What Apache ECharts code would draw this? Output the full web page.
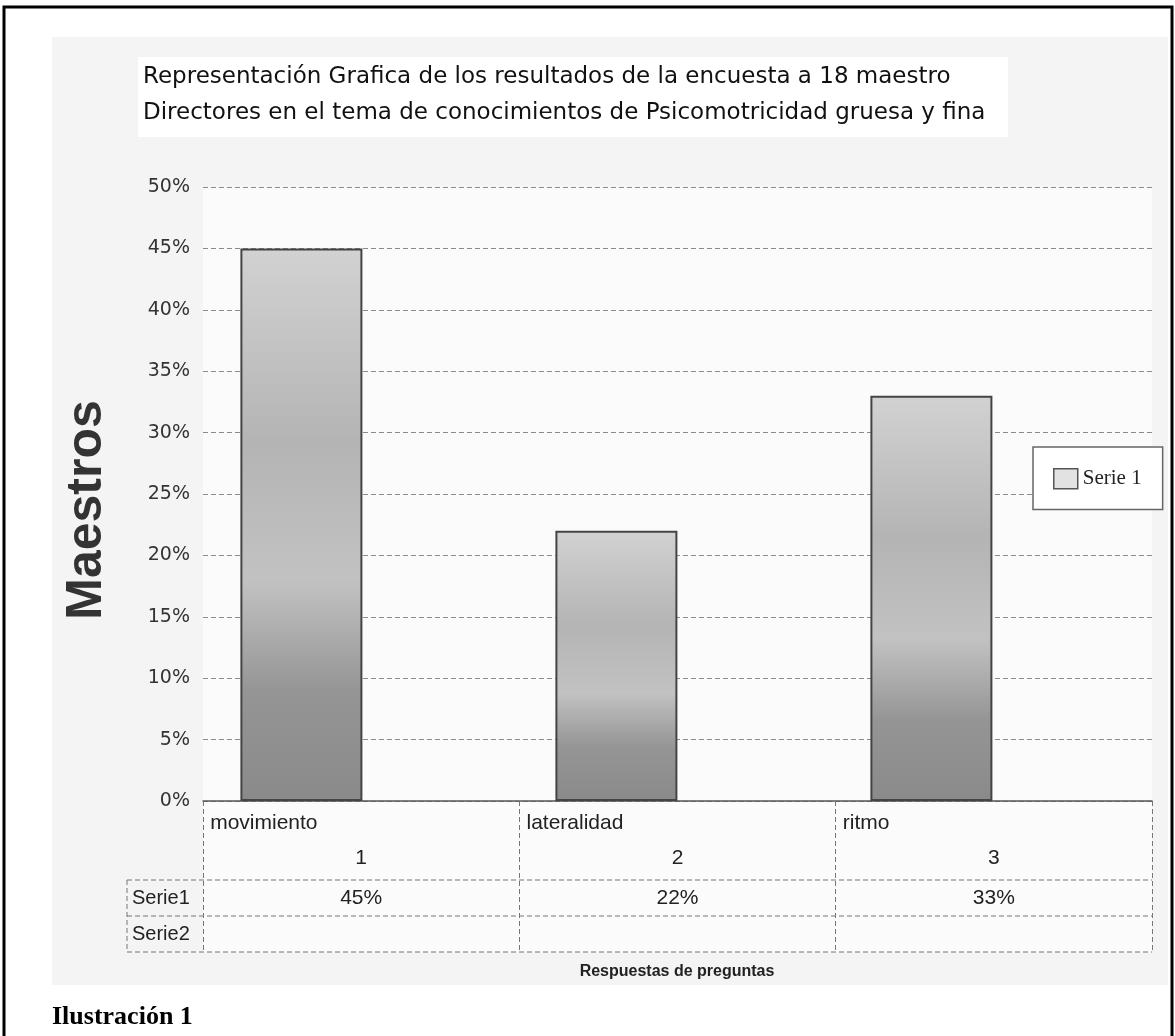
<!DOCTYPE html>
<html>
<head>
<meta charset="utf-8">
<script src="https://cdn.jsdelivr.net/npm/echarts@6/dist/echarts.min.js"></script>
<style>
html,body{margin:0;padding:0;background:#fff;}
#chart{width:1175px;height:1036px;}
</style>
</head>
<body>
<div id="chart"></div>
<script>
// ---- data ----
const categories = ['movimiento', 'lateralidad', 'ritmo'];
const categoryNumbers = ['1', '2', '3'];
const serie1 = [45, 22, 33];
const serie2 = [null, null, null];
const yTicks = [0, 5, 10, 15, 20, 25, 30, 35, 40, 45, 50];
const seriesName = 'Serie 1';
const rowLabels = ['Serie1', 'Serie2'];
const titleLines = [
  'Representación Grafica de los resultados de la encuesta a 18 maestro',
  'Directores en el tema de conocimientos de Psicomotricidad gruesa y fina'
];
const yTitle = 'Maestros';
const xTitle = 'Respuestas de preguntas';
const caption = 'Ilustración 1';

const chart = echarts.init(document.getElementById('chart'));
const tableFont = '"Liberation Sans", Arial, sans-serif';
const dashed = [5, 3];

const option = {
  animation: false,
  backgroundColor: '#ffffff',
  title: [
    {
      text: titleLines.join('\n'),
      left: 138, top: 54,
      textStyle: { fontFamily: '"DejaVu Sans", sans-serif', fontSize: 23, fontWeight: 'normal', lineHeight: 36, color: '#111' }
    }
  ],
  legend: {
    left: 1033, top: 447,
    orient: 'vertical',
    padding: [21, 21, 20, 20],
    borderColor: '#666', borderWidth: 1.5,
    backgroundColor: '#fff',
    itemWidth: 24, itemHeight: 20,
    textStyle: { fontFamily: '"Liberation Serif", "Times New Roman", serif', fontSize: 21, color: '#222' },
    data: [{ name: seriesName, icon: 'rect', itemStyle: { color: '#e2e2e2', borderColor: '#555', borderWidth: 1.5 } }]
  },
  grid: [
    { left: 150, right: 80, top: 187, bottom: 235 },
    { left: 203, right: 23, top: 187, bottom: 235 }
  ],
  xAxis: [
    { gridIndex: 0, type: 'category', data: categories, show: false },
    {
      gridIndex: 1, type: 'category', data: categories, position: 'bottom',
      axisLine: { show: true, lineStyle: { color: '#555', width: 1.5 } },
      axisTick: { show: true, length: 150, interval: 0, lineStyle: { color: '#777', type: dashed, width: 1 } },
      axisLabel: {
        margin: 10, interval: 0,
        formatter: function (v, i) { return '{n|' + v + '}\n{c|' + categoryNumbers[i] + '}'; },
        rich: {
          n: { width: 302, align: 'left', fontFamily: tableFont, fontSize: 21, lineHeight: 25, color: '#222' },
          c: { width: 302, align: 'center', fontFamily: tableFont, fontSize: 21, lineHeight: 44, color: '#222' }
        }
      }
    },
    {
      gridIndex: 1, type: 'category', data: categories, position: 'bottom',
      axisLine: { show: false }, axisTick: { show: false },
      axisLabel: {
        margin: 87, interval: 0,
        formatter: function (v, i) { return serie1[i] + '%'; },
        fontFamily: tableFont, fontSize: 21, color: '#222'
      }
    }
  ],
  yAxis: [
    { gridIndex: 0, type: 'value', min: yTicks[0], max: yTicks[yTicks.length - 1], interval: 5, show: false },
    {
      gridIndex: 1, type: 'value', min: yTicks[0], max: yTicks[yTicks.length - 1], interval: 5,
      axisLine: { show: false }, axisTick: { show: false },
      axisLabel: { margin: 13, formatter: '{value}%', fontFamily: '"DejaVu Sans", Verdana, sans-serif', fontSize: 19, color: '#333' },
      splitLine: { show: true, lineStyle: { color: '#8a8a8a', type: dashed, width: 1 } }
    }
  ],
  series: [
    {
      name: seriesName, type: 'bar', xAxisIndex: 0, yAxisIndex: 0,
      data: serie1, barWidth: 122,
      itemStyle: {
        borderColor: '#444', borderWidth: 2,
        color: {
          type: 'linear', x: 0, y: 0, x2: 0, y2: 1,
          colorStops: [
            { offset: 0, color: '#d2d2d2' },
            { offset: 0.35, color: '#b4b4b4' },
            { offset: 0.6, color: '#c2c2c2' },
            { offset: 0.8, color: '#959595' },
            { offset: 1, color: '#8a8a8a' }
          ]
        }
      }
    },
    {
      name: rowLabels[1], type: 'bar', xAxisIndex: 0, yAxisIndex: 0, data: serie2, barWidth: 0, silent: true
    }
  ],
  graphic: [
    // scanned page faint background
    { type: 'rect', z: -10, shape: { x: 52, y: 37, width: 1116, height: 948 }, style: { fill: '#f4f4f4' } },
    { type: 'rect', z: -9, shape: { x: 138, y: 57, width: 870, height: 80 }, style: { fill: '#ffffff' } },
    { type: 'rect', z: -9, shape: { x: 203, y: 187, width: 949, height: 765 }, style: { fill: '#fbfbfb' } },
    // page border
    { type: 'polyline', shape: { points: [[4, 1036], [4, 7], [1172, 7], [1172, 1036]] }, style: { stroke: '#000', lineWidth: 3, fill: null } },
    // data table lines
    { type: 'line', shape: { x1: 127, y1: 880, x2: 1152, y2: 880 }, style: { stroke: '#777', lineWidth: 1, lineDash: dashed } },
    { type: 'line', shape: { x1: 127, y1: 916, x2: 1152, y2: 916 }, style: { stroke: '#777', lineWidth: 1, lineDash: dashed } },
    { type: 'line', shape: { x1: 127, y1: 952, x2: 1152, y2: 952 }, style: { stroke: '#777', lineWidth: 1, lineDash: dashed } },
    { type: 'line', shape: { x1: 127, y1: 880, x2: 127, y2: 952 }, style: { stroke: '#777', lineWidth: 1, lineDash: dashed } },
    { type: 'text', x: 132, y: 898, style: { text: rowLabels[0], font: '20px "Liberation Sans", Arial, sans-serif', fill: '#222', textVerticalAlign: 'middle' } },
    { type: 'text', x: 132, y: 934, style: { text: rowLabels[1], font: '20px "Liberation Sans", Arial, sans-serif', fill: '#222', textVerticalAlign: 'middle' } },
    { type: 'text', x: 677, y: 972, style: { text: xTitle, fontFamily: '"Liberation Sans", Arial, sans-serif', fontSize: 16, fontWeight: 'bold', fill: '#222', textAlign: 'center', textVerticalAlign: 'middle' } },
    { type: 'text', x: 87, y: 510, rotation: Math.PI / 2, style: { text: yTitle, fontFamily: '"Liberation Sans", Arial, sans-serif', fontSize: 50, fontWeight: 'bold', fill: '#333', textAlign: 'center', textVerticalAlign: 'middle' } },
    { type: 'text', left: 52, top: 1004, style: { text: caption, fontFamily: '"Liberation Serif", "Times New Roman", serif', fontSize: 26, fontWeight: 'bold', fill: '#000' } }
  ]
};
chart.setOption(option);
</script>
</body>
</html>
